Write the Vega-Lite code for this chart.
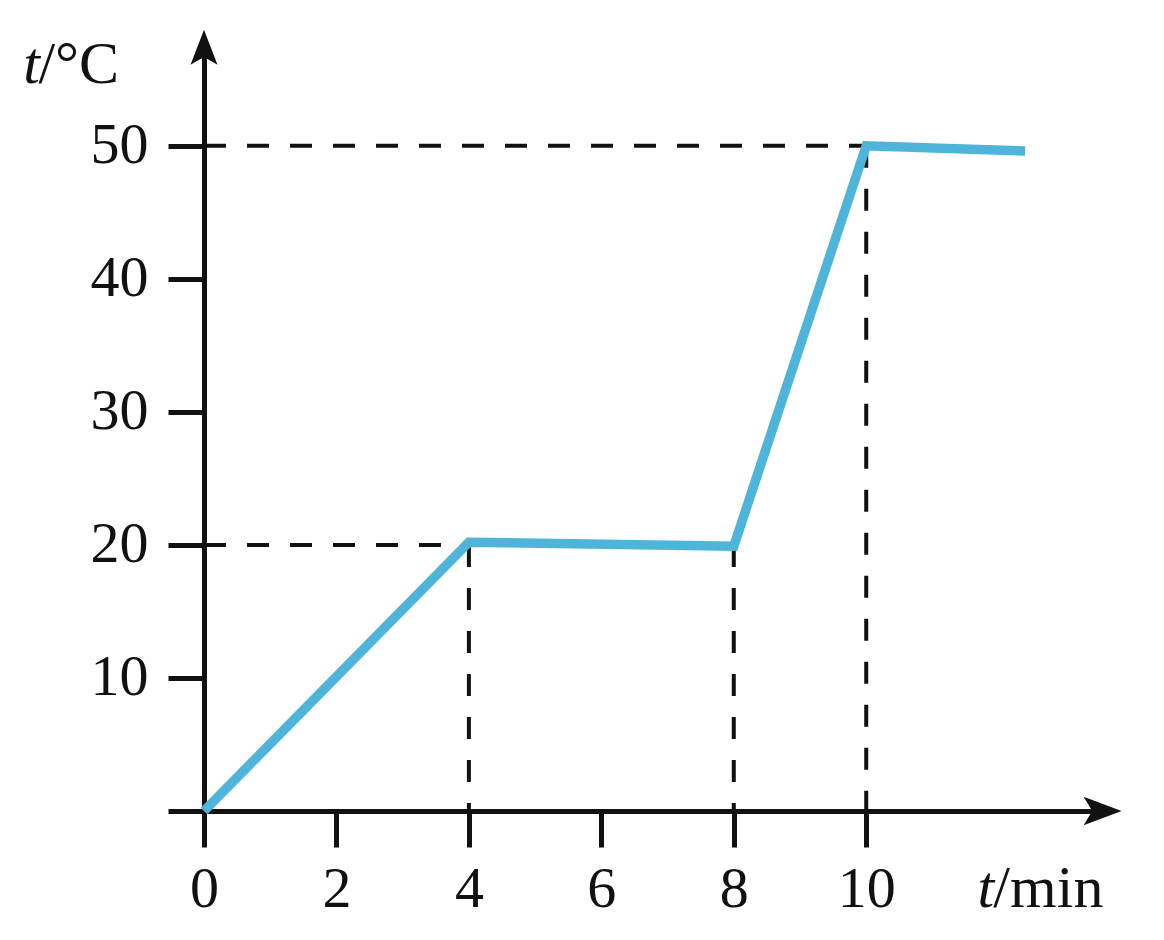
{
  "$schema": "https://vega.github.io/schema/vega-lite/v6.json",
  "description": "Heating curve: temperature against time",
  "autosize": {"type": "none"},
  "padding": {"left": 204, "top": 46, "right": 66, "bottom": 129},
  "width": 894,
  "height": 765,
  "background": "white",
  "config": {
    "view": {"stroke": null},
    "font": "Liberation Serif",
    "axis": {
      "domainColor": "#111111",
      "domainWidth": 5,
      "tickColor": "#111111",
      "tickWidth": 5,
      "tickSize": 36,
      "labelFont": "Liberation Serif",
      "labelFontSize": 58,
      "labelColor": "#111111",
      "format": "d",
      "grid": false,
      "title": null
    }
  },
  "datasets": {
    "curve": [
      {"time": 0, "temp": 0},
      {"time": 4, "temp": 20.2},
      {"time": 8, "temp": 19.9},
      {"time": 10, "temp": 50},
      {"time": 12.4, "temp": 49.6}
    ],
    "guides": [
      {"x1": 0, "y1": 50, "x2": 10, "y2": 50},
      {"x1": 10, "y1": 50, "x2": 10, "y2": 0},
      {"x1": 0, "y1": 20, "x2": 4, "y2": 20},
      {"x1": 4, "y1": 20, "x2": 4, "y2": 0},
      {"x1": 8, "y1": 20, "x2": 8, "y2": 0}
    ],
    "italicLabels": [
      {"x": -2.73, "y": 54.7, "text": "t"},
      {"x": 11.68, "y": -7.22, "text": "t"}
    ],
    "plainLabels": [
      {"x": -2.5, "y": 54.7, "text": "/°C"},
      {"x": 11.92, "y": -7.22, "text": "/min"}
    ],
    "arrowX": [{"x": 13.57, "y": 0}],
    "arrowY": [{"x": 0, "y": 57.4}]
  },
  "layer": [
    {
      "data": {"name": "guides"},
      "mark": {"type": "rule", "color": "#111111", "strokeWidth": 4, "strokeDash": [22, 21]},
      "encoding": {
        "x": {
          "field": "x1", "type": "quantitative",
          "scale": {"domain": [0, 13.5], "nice": false, "zero": false},
          "axis": {
            "values": [0, 2, 4, 6, 8, 10],
            "labelBaseline": "alphabetic",
            "labelPadding": 59,
            "labelFlush": false
          }
        },
        "y": {
          "field": "y1", "type": "quantitative",
          "scale": {"domain": [0, 57.5], "nice": false, "zero": false},
          "axis": {
            "values": [0, 10, 20, 30, 40, 50],
            "labelExpr": "datum.value == 0 ? '' : datum.label",
            "labelPadding": 20,
            "labelFlush": false
          }
        },
        "x2": {"field": "x2"},
        "y2": {"field": "y2"}
      }
    },
    {
      "data": {"name": "curve"},
      "mark": {"type": "line", "color": "#4fb4da", "strokeWidth": 9.5, "strokeJoin": "miter", "strokeCap": "butt", "clip": false},
      "encoding": {
        "x": {"field": "time", "type": "quantitative"},
        "y": {"field": "temp", "type": "quantitative"}
      }
    },
    {
      "data": {"name": "arrowX"},
      "mark": {"type": "point", "shape": "M 1 0 L -1 -0.75 L -0.55 0 L -1 0.75 Z", "size": 1444, "filled": true, "color": "#111111", "opacity": 1, "clip": false},
      "encoding": {
        "x": {"field": "x", "type": "quantitative"},
        "y": {"field": "y", "type": "quantitative"}
      }
    },
    {
      "data": {"name": "arrowY"},
      "mark": {"type": "point", "shape": "M 0 -1 L -0.77 1 L 0 0.55 L 0.77 1 Z", "size": 1225, "filled": true, "color": "#111111", "opacity": 1, "clip": false},
      "encoding": {
        "x": {"field": "x", "type": "quantitative"},
        "y": {"field": "y", "type": "quantitative"}
      }
    },
    {
      "data": {"name": "italicLabels"},
      "mark": {"type": "text", "font": "Liberation Serif", "fontSize": 60, "fontStyle": "italic", "align": "left", "baseline": "alphabetic", "color": "#111111", "clip": false},
      "encoding": {
        "x": {"field": "x", "type": "quantitative"},
        "y": {"field": "y", "type": "quantitative"},
        "text": {"field": "text"}
      }
    },
    {
      "data": {"name": "plainLabels"},
      "mark": {"type": "text", "font": "Liberation Serif", "fontSize": 60, "align": "left", "baseline": "alphabetic", "color": "#111111", "clip": false},
      "encoding": {
        "x": {"field": "x", "type": "quantitative"},
        "y": {"field": "y", "type": "quantitative"},
        "text": {"field": "text"}
      }
    }
  ]
}
